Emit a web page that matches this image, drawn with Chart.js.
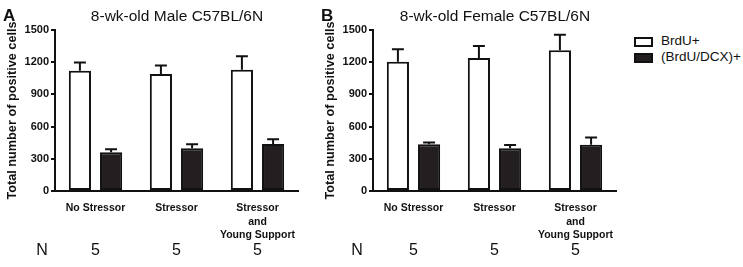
<!DOCTYPE html>
<html>
<head>
<meta charset="utf-8">
<script src="https://cdn.jsdelivr.net/npm/chart.js@4"></script>
<style>
body { margin: 0; background: #fff; font-family: Arial, "Liberation Sans", sans-serif; }
#wrap { position: relative; width: 743px; height: 267px; overflow: hidden; }
canvas { position: absolute; top: 0; }
.t { position: absolute; color: #111; white-space: nowrap; }
.ttl { font-size: 15.5px; top: 7px; transform: translateX(-50%); }
.let { font-size: 17px; font-weight: bold; top: 6px; }
.n { font-size: 16px; top: 241px; transform: translateX(-50%); }
.box { position: absolute; left: 634px; width: 15px; height: 6px; border: 2px solid #111; }
.lg { font-size: 13.5px; left: 661px; }
</style>
</head>
<body>
<div id="wrap">
  <canvas id="chartA" width="310" height="267" style="left:0px"></canvas>
  <canvas id="chartB" width="310" height="267" style="left:318px"></canvas>
  <div class="t let" style="left:3px">A</div>
  <div class="t let" style="left:321px">B</div>
  <div class="t ttl" style="left:177px">8-wk-old Male C57BL/6N</div>
  <div class="t ttl" style="left:495px">8-wk-old Female C57BL/6N</div>
  <div class="t n" style="left:42px">N</div>
  <div class="t n" style="left:357px">N</div>
  <div class="box" style="top:37px;background:#fff"></div>
  <div class="t lg" style="top:33px">BrdU+</div>
  <div class="box" style="top:53px;background:#231f20"></div>
  <div class="t lg" style="top:49px">(BrdU/DCX)+</div>
</div>
<script>
var groups = ["No Stressor", "Stressor", ["Stressor", "and", "Young Support"]];
var nValues = [5, 5, 5];

var maleBrdU = [1120, 1090, 1130];
var maleBrdUErr = [78, 80, 126];
var maleDCX = [360, 398, 438];
var maleDCXErr = [28, 37, 43];

var femaleBrdU = [1205, 1240, 1312];
var femaleBrdUErr = [115, 110, 143];
var femaleDCX = [435, 398, 430];
var femaleDCXErr = [18, 30, 68];

var seriesNames = ["BrdU+", "(BrdU/DCX)+"];

// error bars (upward only) drawn from the bar tops
var errorBars = {
	id: "errorBars",
	afterDatasetsDraw: function(chart) {
		var ctx = chart.ctx;
		var yScale = chart.scales.y;
		chart.data.datasets.forEach(function(ds, di) {
			var meta = chart.getDatasetMeta(di);
			meta.data.forEach(function(bar, i) {
				var top = yScale.getPixelForValue(ds.data[i] + ds.err[i]);
				var half = bar.width * 0.27;
				ctx.save();
				ctx.strokeStyle = "#111";
				ctx.lineWidth = 2;
				ctx.beginPath();
				ctx.moveTo(bar.x, bar.y);
				ctx.lineTo(bar.x, top);
				ctx.moveTo(bar.x - half, top);
				ctx.lineTo(bar.x + half, top);
				ctx.stroke();
				ctx.restore();
			});
		});
	}
};

function makeChart(id, brdu, brduErr, dcx, dcxErr) {
	return new Chart(document.getElementById(id).getContext("2d"), {
		type: "bar",
		data: {
			labels: groups,
			datasets: [{
				label: seriesNames[0],
				data: brdu,
				err: brduErr,
				backgroundColor: "#fff",
				borderColor: "#111",
				borderWidth: 2,
				borderSkipped: false
			}, {
				label: seriesNames[1],
				data: dcx,
				err: dcxErr,
				backgroundColor: "#231f20",
				borderColor: "#111",
				borderWidth: 2,
				borderSkipped: false
			}]
		},
		options: {
			responsive: false,
			animation: false,
			categoryPercentage: 0.77,
			barPercentage: 0.71,
			layout: { padding: { top: 30, right: 12, bottom: 0, left: 0 } },
			plugins: { legend: { display: false }, tooltip: { enabled: false } },
			scales: {
				x: {
					type: "category",
					offset: true,
					weight: 0,
					grid: { display: false, drawTicks: false },
					border: { color: "#111", width: 2 },
					ticks: {
						padding: 11,
						color: "#111",
						maxRotation: 0,
						autoSkip: false,
						font: { family: "Arial", size: 10.5, weight: "bold", lineHeight: 1.25 }
					},
					afterFit: function(s) { s.height = 50; }
				},
				n: {
					type: "category",
					position: "bottom",
					labels: nValues.map(String),
					offset: true,
					weight: 1,
					grid: { display: false, drawTicks: false },
					border: { display: false },
					ticks: {
						padding: 0,
						color: "#111",
						font: { family: "Arial", size: 16 }
					},
					afterFit: function(s) { s.height = 26; }
				},
				y: {
					min: 0,
					max: 1500,
					ticks: {
						stepSize: 300,
						padding: 2,
						color: "#111",
						callback: function(v) { return String(v); },
						font: { family: "Arial", size: 11, weight: "bold" }
					},
					grid: { drawOnChartArea: false, drawTicks: true, tickLength: 4, color: "#111", lineWidth: 2 },
					border: { color: "#111", width: 2 },
					title: {
						display: true,
						text: "Total number of positive cells",
						color: "#111",
						padding: { top: 5, bottom: 0 },
						font: { family: "Arial", size: 12.7, weight: "bold" }
					},
					afterFit: function(s) { s.width = 55; }
				}
			}
		},
		plugins: [errorBars]
	});
}

makeChart("chartA", maleBrdU, maleBrdUErr, maleDCX, maleDCXErr);
makeChart("chartB", femaleBrdU, femaleBrdUErr, femaleDCX, femaleDCXErr);
</script>
</body>
</html>
